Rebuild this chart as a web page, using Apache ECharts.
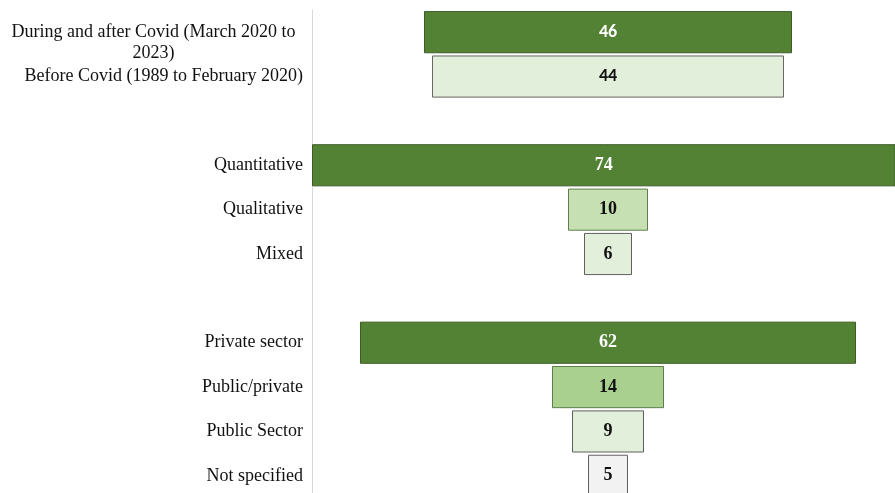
<!DOCTYPE html>
<html>
<head>
<meta charset="utf-8">
<script src="https://cdn.jsdelivr.net/npm/echarts@6/dist/echarts.min.js"></script>
<style>
  html, body { margin: 0; padding: 0; background: #ffffff; }
  #chart { width: 895px; height: 493px; }
</style>
</head>
<body>
<div id="chart"></div>
<script>
// ---- Data ----
const categories = [
  'During and after Covid (March 2020 to\n2023)',
  'Before Covid (1989 to February 2020)',
  '',
  'Quantitative',
  'Qualitative',
  'Mixed',
  '',
  'Private sector',
  'Public/private',
  'Public Sector',
  'Not specified'
];
const values = [46, 44, null, 74, 10, 6, null, 62, 14, 9, 5];

// ---- Styles ----
const fillColors = ['#548235', '#e2efda', null, '#548235', '#c6e0b4', '#e2efda', null, '#548235', '#a9d08e', '#e2efda', '#f2f2f2'];
const borderColors = ['#3b5e25', '#666666', null, '#3b5e25', '#5f7f4a', '#5f5f5f', null, '#3b5e25', '#5f7f4a', '#5f5f5f', '#5f5f5f'];
const labelColors = ['#ffffff', '#111111', null, '#ffffff', '#111111', '#111111', null, '#ffffff', '#111111', '#111111', '#111111'];
const labelFonts = ['Carlito, Lato, sans-serif', 'Carlito, Lato, sans-serif', null, 'Liberation Serif', 'Liberation Serif', 'Liberation Serif', null, 'Liberation Serif', 'Liberation Serif', 'Liberation Serif', 'Liberation Serif'];

const CENTER = 37; // centre of the funnel on the value axis
const offsets = values.map(v => v == null ? null : CENTER - v / 2);

const chart = echarts.init(document.getElementById('chart'), null, { renderer: 'canvas' });

const yData = categories.map((c, i) => {
  if (i === 0) {
    return { value: c, textStyle: { padding: [21, 0, 0, 0] } };
  }
  return c;
});

chart.setOption({
  animation: false,
  backgroundColor: '#ffffff',
  grid: { left: 312, top: 10, width: 583, height: 488, containLabel: false, outerBoundsMode: 'none' },
  xAxis: {
    type: 'value', min: 0, max: 72.875,
    show: false,
    splitLine: { show: false }
  },
  yAxis: {
    type: 'category',
    inverse: true,
    data: yData,
    axisLine: { show: true, lineStyle: { color: '#d9d9d9', width: 1 } },
    axisTick: { show: false },
    axisLabel: {
      margin: 9,
      color: '#111111',
      fontFamily: 'Liberation Serif',
      fontSize: 18,
      lineHeight: 21,
      formatter: function (v) {
        if (v.indexOf('\n') >= 0) {
          return v.split('\n').map(s => '{c|' + s + '}').join('\n');
        }
        return v;
      },
      rich: {
        c: {
          width: 299,
          align: 'center',
          fontFamily: 'Liberation Serif',
          fontSize: 18,
          lineHeight: 21,
          color: '#111111'
        }
      }
    }
  },
  series: [
    {
      type: 'bar',
      stack: 'f',
      silent: true,
      itemStyle: { color: 'transparent' },
      barCategoryGap: '5%',
      data: offsets
    },
    {
      type: 'bar',
      stack: 'f',
      barCategoryGap: '5%',
      data: values.map((v, i) => v == null ? null : {
        value: v,
        itemStyle: { color: fillColors[i], borderColor: borderColors[i], borderWidth: 1 },
        label: {
          show: true,
          position: 'inside',
          color: labelColors[i],
          fontFamily: labelFonts[i],
          fontWeight: 'bold',
          fontSize: 18
        }
      })
    }
  ]
});
</script>
</body>
</html>
